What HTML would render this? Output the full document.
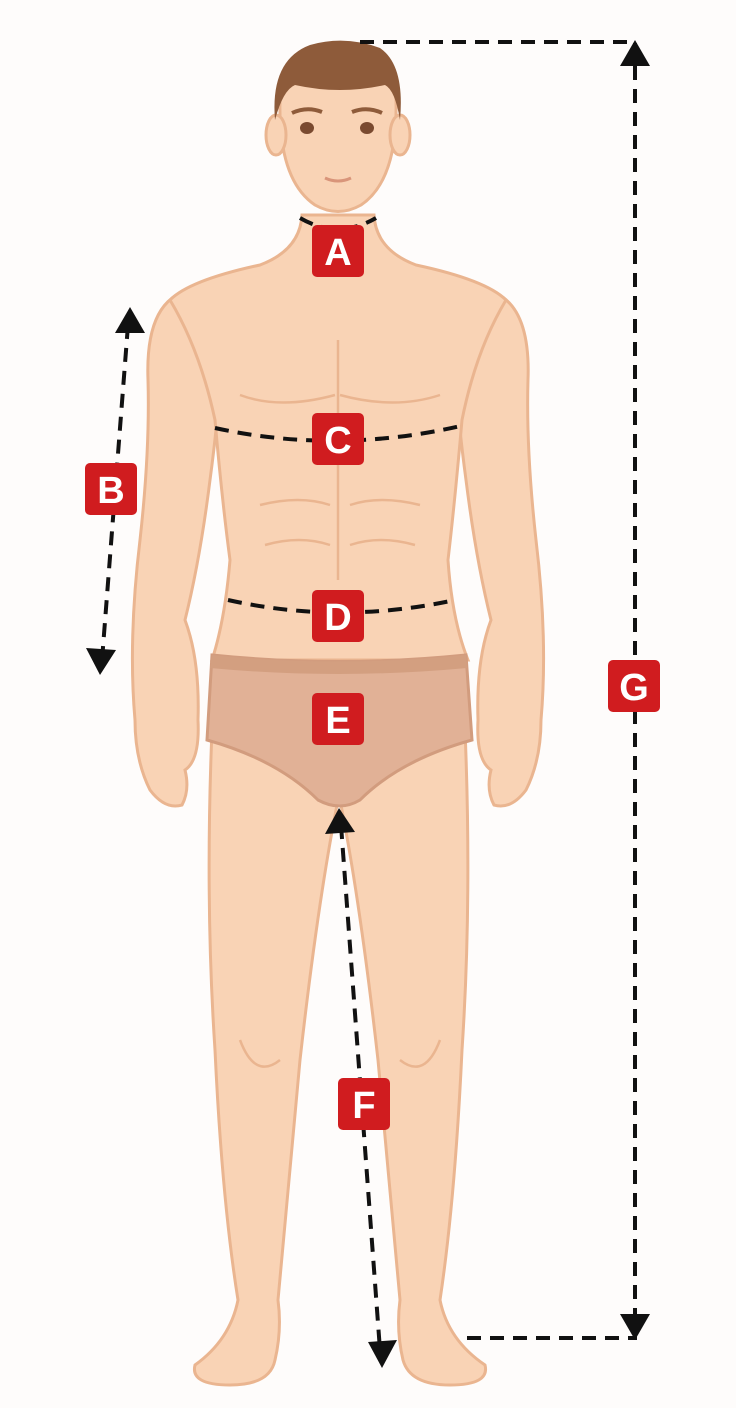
<!DOCTYPE html>
<html><head><meta charset="utf-8"><style>
html,body{margin:0;padding:0;background:#fff;}
svg{display:block;}
.lbl{font-family:"Liberation Sans",sans-serif;font-weight:bold;font-size:38px;fill:#fff;text-anchor:middle;}
</style></head><body>
<svg width="736" height="1408" viewBox="0 0 736 1408" xmlns="http://www.w3.org/2000/svg">
<defs>
<marker id="ar" markerWidth="10" markerHeight="10" refX="5" refY="5" orient="auto" markerUnits="userSpaceOnUse" viewBox="0 0 10 10">
</marker>
</defs>
<rect width="736" height="1408" fill="#fefcfb"/>
<g fill="#f9d3b5" stroke="#eab590" stroke-width="3">
<!-- legs -->
<path d="M212 730 Q205 900 215 1050 Q222 1200 238 1300 Q230 1340 195 1365 Q190 1385 230 1385 Q270 1385 275 1360 Q282 1330 278 1300 Q292 1150 300 1060 Q318 900 338 800 Z"/>
<path d="M465 730 Q472 900 462 1050 Q455 1200 440 1300 Q448 1340 485 1365 Q490 1385 450 1385 Q410 1385 403 1360 Q396 1330 400 1300 Q386 1150 378 1060 Q360 900 340 800 Z"/>
<!-- arms -->
<path d="M190 290 Q145 300 148 380 Q150 450 140 540 Q128 640 135 720 Q135 760 150 790 Q165 810 182 805 Q190 790 185 770 Q200 760 198 720 Q200 660 185 620 Q200 560 210 480 Q218 420 220 380 Z"/>
<path d="M486 290 Q531 300 528 380 Q526 450 536 540 Q548 640 541 720 Q541 760 526 790 Q511 810 494 805 Q486 790 491 770 Q476 760 478 720 Q476 660 491 620 Q476 560 466 480 Q458 420 456 380 Z"/>
<!-- torso -->
<path d="M302 215 Q300 250 260 265 Q190 280 170 300 Q200 350 215 420 Q222 500 230 560 Q225 620 212 660 L468 660 Q452 620 448 560 Q455 500 462 420 Q476 350 506 300 Q486 280 416 265 Q376 250 374 215 Z"/>
<!-- head -->
<path d="M280 100 Q278 180 315 205 Q338 218 361 205 Q398 180 396 100 Q396 60 338 55 Q280 60 280 100 Z"/>
<ellipse cx="276" cy="135" rx="10" ry="20"/>
<ellipse cx="400" cy="135" rx="10" ry="20"/>
</g>
<!-- hair -->
<path d="M275 120 Q270 60 310 45 Q345 35 380 48 Q405 65 400 120 Q395 90 385 85 Q340 95 295 85 Q283 90 275 120 Z" fill="#8e5b3a"/>
<!-- face -->
<g fill="#7a4a30"><ellipse cx="307" cy="128" rx="7" ry="6"/><ellipse cx="367" cy="128" rx="7" ry="6"/></g>
<path d="M292 113 Q307 106 322 112 M352 112 Q367 106 382 113" stroke="#8e5b3a" stroke-width="4" fill="none"/>
<path d="M325 178 Q338 184 351 178" stroke="#d9957a" stroke-width="3" fill="none"/>
<!-- body details -->
<g stroke="#eab590" stroke-width="2.5" fill="none">
<path d="M240 395 Q280 410 335 395 M340 395 Q395 410 440 395"/>
<path d="M338 340 L338 580"/>
<path d="M260 505 Q300 495 330 505 M350 505 Q380 495 420 505 M265 545 Q300 535 330 545 M350 545 Q380 535 415 545"/>
<path d="M240 1040 Q255 1080 280 1060 M400 1060 Q425 1080 440 1040"/>
</g>
<!-- briefs -->
<path d="M212 655 Q338 668 466 655 L472 740 Q400 760 360 800 Q340 812 318 800 Q278 760 207 740 Z" fill="#e1b196" stroke="#d29c7e" stroke-width="3"/>
<path d="M212 655 Q338 668 466 655 L467 668 Q338 680 210 668 Z" fill="#d39f80"/>
<!-- dashed lines -->
<g stroke="#111" stroke-width="4" fill="none" stroke-dasharray="14 9">
<path d="M300 218 Q338 240 376 218"/>
<path d="M215 428 Q338 455 465 425"/>
<path d="M228 600 Q340 625 455 600"/>
<path d="M360 42 L635 42 L635 1338 L465 1338"/>
<path d="M128 325 L102 660"/>
<path d="M341 825 L380 1350"/>
</g>
<g fill="#111">
<polygon points="635,40 620,66 650,66"/>
<polygon points="635,1340 620,1314 650,1314"/>
<polygon points="130,307 115,333 145,333"/>
<polygon points="100,675 86,648 116,650"/>
<polygon points="339,808 325,834 355,832"/>
<polygon points="382,1368 368,1342 397,1340"/>
</g>
<!-- labels -->
<g fill="#d01c1f">
<rect x="312" y="225" width="52" height="52" rx="5"/>
<rect x="312" y="413" width="52" height="52" rx="5"/>
<rect x="312" y="590" width="52" height="52" rx="5"/>
<rect x="312" y="693" width="52" height="52" rx="5"/>
<rect x="85" y="463" width="52" height="52" rx="5"/>
<rect x="338" y="1078" width="52" height="52" rx="5"/>
<rect x="608" y="660" width="52" height="52" rx="5"/>
</g>
<text class="lbl" x="338" y="265">A</text>
<text class="lbl" x="338" y="453">C</text>
<text class="lbl" x="338" y="630">D</text>
<text class="lbl" x="338" y="733">E</text>
<text class="lbl" x="111" y="503">B</text>
<text class="lbl" x="364" y="1118">F</text>
<text class="lbl" x="634" y="700">G</text>
</svg>
</body></html>
